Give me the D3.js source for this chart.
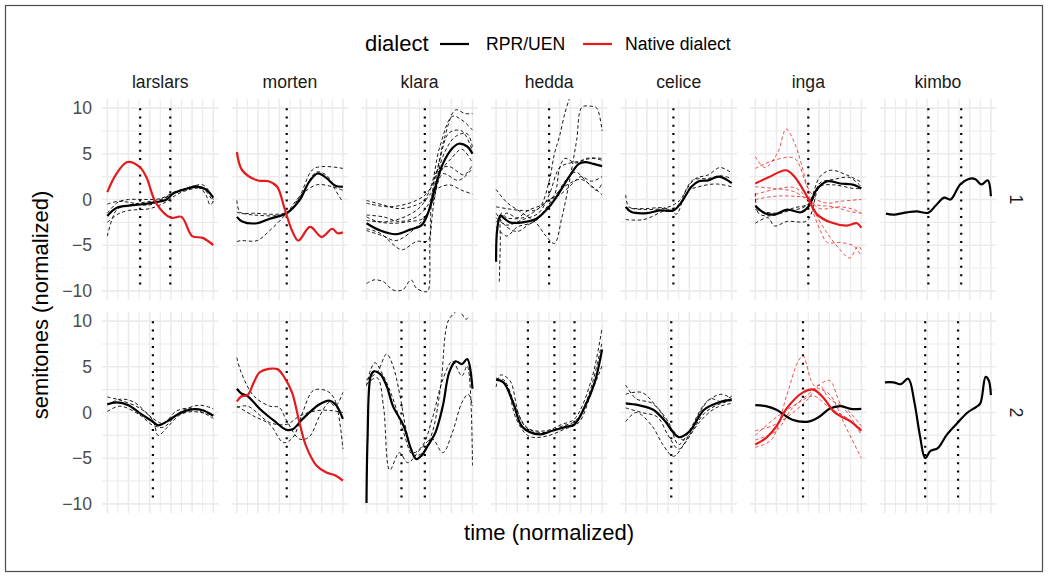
<!DOCTYPE html>
<html><head><meta charset="utf-8">
<script src="https://cdn.jsdelivr.net/npm/d3@7"></script>
<style>body{margin:0;background:#fff}text{font-family:"Liberation Sans",Arial,sans-serif}</style>
</head><body><svg id="c" width="1049" height="578"></svg>
<script>
// ---------- categories & ticks ----------
const speakers = ["larslars","morten","klara","hedda","celice","inga","kimbo"];
const rowIds = ["1","2"];
const yTickVals = [-10,-5,0,5,10];
const yTickLabels = ["\u221210","\u22125","0","5","10"];
const dialects = ["RPR/UEN","Native dialect"];
const dialectColors = ["#000000","#e41a1c"];

// ---------- row 1 ----------
const ll1Rpr = [[0,-1.8],[0.09,-0.9],[0.22,-0.65],[0.31,-0.55],[0.43,-0.35],[0.56,0],[0.62,0.65],[0.74,1.15],[0.85,1.4],[0.93,1.1],[1,0.2]];
const ll1Nat = [[0,0.8],[0.08,2.7],[0.19,4.1],[0.31,3.5],[0.37,2.4],[0.46,-0.4],[0.6,-2.0],[0.7,-1.9],[0.8,-4.0],[0.9,-4.2],[1,-5.0]];
const ll1RprTrials = [
 [[0,-4],[0.05,-2],[0.1,-1.0],[0.3,-0.4],[0.5,0],[0.7,1.0],[0.85,1.5],[0.93,0.5],[0.97,-0.6],[1,-0.2]],
 [[0,-1.5],[0.1,-0.3],[0.2,0],[0.35,0],[0.5,0.1],[0.65,0.9],[0.75,1.2],[0.9,1.6],[1,0.2]],
 [[0,-2.5],[0.1,-1.6],[0.2,-1.2],[0.4,-1.0],[0.55,-0.3],[0.65,0.5],[0.75,1.0],[0.9,1.2],[1,-0.3]],
 [[0,-0.5],[0.1,-0.2],[0.2,-0.3],[0.4,-0.6],[0.6,0.5],[0.8,1.3],[0.95,0.9],[1,0]]
];
const ll1Bounds = [0.31,0.594];

const mo1Rpr = [[0,-1.9],[0.05,-2.4],[0.19,-2.6],[0.31,-2.1],[0.47,-1.5],[0.59,-0.1],[0.68,1.9],[0.76,2.85],[0.84,2.4],[0.93,1.5],[1,1.4]];
const mo1Nat = [[0,5.2],[0.05,3.2],[0.19,2.1],[0.3,2.0],[0.38,1.4],[0.45,-1.0],[0.52,-3.4],[0.58,-4.5],[0.69,-3.0],[0.8,-4.1],[0.9,-3.2],[0.95,-3.7],[1,-3.6]];
const mo1RprTrials = [
 [[0,-0.1],[0.03,-1.4],[0.16,-1.5],[0.47,-1.4],[0.59,0.3],[0.73,3.4],[1,3.4]],
 [[0,-4.6],[0.04,-4.5],[0.19,-4.5],[0.31,-3.4],[0.47,-1.5],[0.59,0.3],[0.75,1.6],[0.9,1.4],[1,1.0]],
 [[0,-1.4],[0.16,-1.7],[0.47,-1.5],[0.62,0.7],[0.75,3.0],[0.85,2.6],[0.92,1.2],[1,-0.3]]
];
const mo1Bounds = [0.47];

const kl1Rpr = [[0,-2.6],[0.13,-3.4],[0.28,-3.8],[0.41,-3.3],[0.52,-2.8],[0.58,-1.5],[0.64,1.0],[0.72,3.9],[0.81,5.6],[0.87,6.1],[0.95,5.8],[1,5.0]];
const kl1RprTrials = [
 [[0,-9.2],[0.07,-8.8],[0.16,-9.0],[0.25,-9.9],[0.34,-9.9],[0.42,-8.8],[0.47,-9.7],[0.55,-10.1],[0.58,-10],[0.6,-4.5],[0.64,0],[0.7,3],[0.8,4.5],[0.9,5.5],[1,4]],
 [[0,-0.1],[0.16,-0.6],[0.31,-1.0],[0.47,-0.6],[0.54,-0.1],[0.65,2.5],[0.73,6.5],[0.84,9.8],[0.93,9.4],[1,9.4]],
 [[0,-0.4],[0.22,-0.8],[0.47,-0.1],[0.59,1.0],[0.69,5.7],[0.81,9.1],[0.9,8.7],[1,7.6]],
 [[0,-1.7],[0.16,-1.9],[0.31,-2.4],[0.47,-1.9],[0.59,-0.4],[0.69,4.3],[0.78,7.3],[0.9,7.5],[1,5.3]],
 [[0,-2.3],[0.22,-2.4],[0.47,-1.2],[0.64,1.0],[0.78,1.6],[0.9,1.0],[1,0.6]],
 [[0,-3.2],[0.13,-3.7],[0.28,-5.2],[0.34,-5.5],[0.47,-4.6],[0.58,-4.5],[0.61,-0.8],[0.67,3.2],[0.78,3.6],[0.92,2.7],[1,3.8]],
 [[0,-3.4],[0.16,-4.0],[0.28,-4.5],[0.47,-3.0],[0.59,-1.2],[0.72,4.7],[0.84,6.9],[0.95,7.2],[1,5.7]],
 [[0,-1.9],[0.1,-2.4],[0.25,-2.6],[0.41,-2.4],[0.53,-2.1],[0.62,-0.4],[0.72,2.8],[0.87,2.1],[1,3.4]]
];
const kl1Bounds = [0.55];

const he1Rpr = [[0,-6.8],[0.01,-3.3],[0.04,-1.75],[0.07,-2.0],[0.13,-2.5],[0.25,-2.5],[0.38,-2.1],[0.5,-0.8],[0.59,0.65],[0.69,2.5],[0.78,3.9],[0.84,4.1],[0.92,3.9],[1,3.65]];
const he1RprTrials = [
 [[0,1.1],[0.1,-0.3],[0.25,-1.5],[0.38,-2.6],[0.47,-4.0],[0.55,-4.8],[0.62,-2.0],[0.7,2.5],[0.76,6.5],[0.81,10.1],[0.9,10.2],[0.95,10],[1,7.5]],
 [[0,-0.8],[0.1,-1.0],[0.25,-1.2],[0.4,-1.0],[0.5,2.0],[0.55,5.0],[0.6,7.0],[0.65,9.5],[0.69,11]],
 [[0,-2.0],[0.1,-2.8],[0.25,-2.2],[0.4,-1.5],[0.5,0.5],[0.6,3.5],[0.7,4.0],[0.8,4.2],[0.9,4.5],[1,4.3]],
 [[0,-1.5],[0.1,-3.0],[0.2,-3.5],[0.3,-2.8],[0.4,-2.0],[0.5,-0.5],[0.6,1.0],[0.7,1.8],[0.8,2.2],[0.9,1.5],[1,0.5]],
 [[0.03,-9.0],[0.04,-5],[0.05,-1.5],[0.1,-2.0],[0.25,-2.0],[0.4,-1.0],[0.5,0],[0.6,0.5],[0.7,1.5],[0.8,2.5],[0.9,2.0],[1,2.5]],
 [[0,-3.0],[0.1,-4.0],[0.2,-3.0],[0.35,-2.5],[0.45,-1.5],[0.55,0],[0.65,2.0],[0.75,3.0],[0.85,2.0],[0.95,1.0],[1,1.8]],
 [[0,-2.5],[0.1,-1.5],[0.2,-2.0],[0.3,-1.2],[0.45,-0.5],[0.55,0.5],[0.6,3.5],[0.65,4.5],[0.75,4.0],[0.85,4.5],[1,4.5]]
];
const he1Bounds = [0.5];

const ce1Rpr = [[0,-0.8],[0.05,-1.35],[0.2,-1.5],[0.32,-1.2],[0.45,-1.2],[0.52,-0.4],[0.62,1.4],[0.69,2.0],[0.78,2.1],[0.88,2.5],[1,1.8]];
const ce1RprTrials = [
 [[0,0.5],[0.03,-0.8],[0.17,-1.0],[0.35,-0.9],[0.43,-1.2],[0.48,-1.6],[0.57,1.0],[0.66,2.3],[0.78,2.7],[0.89,3.5],[1,2.9]],
 [[0,-2.2],[0.17,-2.2],[0.35,-1.3],[0.48,-0.8],[0.6,1.0],[0.69,1.4],[0.85,1.7],[1,1.4]],
 [[0,-0.9],[0.17,-1.1],[0.38,-0.9],[0.51,-0.1],[0.63,2.1],[0.78,2.3],[0.89,2.6],[1,2.3]]
];
const ce1Bounds = [0.45];

const in1Rpr = [[0,-0.7],[0.09,-1.5],[0.18,-1.65],[0.3,-1.1],[0.43,-1.4],[0.5,-0.8],[0.58,1.1],[0.68,2.0],[0.8,1.75],[0.93,1.6],[1,1.2]];
const in1Nat = [[0,1.75],[0.12,2.4],[0.29,3.2],[0.37,2.5],[0.49,0.3],[0.58,-1.6],[0.71,-2.5],[0.86,-2.85],[0.96,-2.6],[1,-3.1]];
const in1RprTrials = [
 [[0,0.7],[0.03,-1.5],[0.12,-1.8],[0.3,-1.3],[0.49,-0.6],[0.61,2.5],[0.71,3.2],[0.86,2.7],[1,1.9]],
 [[0,-2.6],[0.12,-2.0],[0.18,-2.9],[0.3,-2.4],[0.49,-2.3],[0.61,1.4],[0.74,1.6],[0.93,1.2],[1,1.2]],
 [[0,-1.1],[0.18,-1.5],[0.37,-0.9],[0.52,-0.4],[0.61,1.8],[0.74,2.2],[0.89,2.4],[1,1.4]]
];
const in1NatTrials = [
 [[0,4.7],[0.09,3.5],[0.21,5.1],[0.29,7.7],[0.37,6.2],[0.49,1.4],[0.55,-1.5],[0.61,-3.3],[0.68,-4.7],[0.8,-4.7],[0.93,-5.1],[1,-6.2]],
 [[0,3.4],[0.18,4.3],[0.37,4.5],[0.49,1.4],[0.58,0],[0.68,-0.4],[0.8,-0.2],[1,0]],
 [[0,1.4],[0.18,1.2],[0.37,0.85],[0.52,-0.3],[0.58,-0.6],[0.74,-0.8],[0.89,-1.3],[1,-1.5]],
 [[0,0],[0.18,0.35],[0.37,0.35],[0.52,0],[0.58,-1.8],[0.68,-3.7],[0.8,-5.5],[0.89,-6.4],[0.97,-5.1],[1,-5.5]],
 [[0,0.55],[0.18,1.1],[0.37,1.3],[0.49,0.2],[0.61,-1],[0.8,-0.8],[0.93,-1.1],[1,-1.5]]
];
const in1Bounds = [0.5];

const ki1Rpr = [[0.01,-1.55],[0.08,-1.65],[0.21,-1.4],[0.3,-1.3],[0.41,-1.45],[0.48,-0.65],[0.56,0.2],[0.62,0],[0.71,1.65],[0.79,2.25],[0.85,2.25],[0.91,1.65],[0.97,2.1],[1,0.35]];
const ki1Bounds = [0.41,0.72];

// ---------- row 2 ----------
const ll2Rpr = [[0,0.9],[0.09,1.1],[0.2,0.8],[0.31,-0.1],[0.43,-1.0],[0.48,-1.4],[0.56,-1.0],[0.68,-0.1],[0.8,0.35],[0.9,0.25],[1,-0.35]];
const ll2RprTrials = [
 [[0,1.7],[0.12,1.35],[0.31,0.45],[0.43,-0.85],[0.48,-2.5],[0.56,-1.7],[0.68,-0.3],[0.8,0.1],[1,-0.3]],
 [[0,0.1],[0.12,0.7],[0.31,-0.3],[0.43,-1.4],[0.53,-1.6],[0.68,0.0],[0.87,0.8],[1,0.4]],
 [[0,0.8],[0.12,1.45],[0.25,1.15],[0.43,-0.65],[0.53,-1.2],[0.65,0.15],[0.8,0.45],[1,-0.65]]
];
const ll2Bounds = [0.43];

const mo2Rpr = [[0,2.6],[0.04,2.1],[0.1,1.8],[0.22,0.36],[0.35,-0.9],[0.47,-1.9],[0.53,-1.8],[0.62,-0.7],[0.78,0.9],[0.87,1.3],[0.93,0.9],[1,-0.7]];
const mo2Nat = [[0,1.2],[0.04,1.75],[0.1,1.9],[0.16,3.3],[0.22,4.45],[0.38,4.75],[0.45,3.8],[0.52,2.2],[0.59,-1.1],[0.65,-3.6],[0.75,-5.8],[0.84,-6.55],[0.93,-6.9],[1,-7.45]];
const mo2RprTrials = [
 [[0,6.0],[0.04,4.4],[0.16,1.8],[0.31,0.7],[0.4,0.55],[0.47,-0.9],[0.59,-2.9],[0.68,-2.7],[0.78,-0.4],[0.87,1.1],[0.93,0.7],[1,2.2]],
 [[0,0.7],[0.16,-0.4],[0.31,-1.3],[0.44,-3.3],[0.53,-2.7],[0.62,0],[0.72,2.4],[0.84,2.4],[0.92,1.5],[1,-4.0]],
 [[0,0.55],[0.1,0.7],[0.31,-1.1],[0.47,-1.3],[0.59,-0.4],[0.75,0.2],[0.9,0.2],[1,0]]
];
const mo2Bounds = [0.47];

const kl2Rpr = [[0,-9.9],[0.01,-2.9],[0.04,4.0],[0.07,4.5],[0.13,4.2],[0.19,2.9],[0.25,0.7],[0.35,-1.45],[0.42,-4.0],[0.47,-5.1],[0.52,-4.7],[0.58,-3.6],[0.65,-2.2],[0.72,0.7],[0.78,4.4],[0.84,5.6],[0.9,5.3],[0.95,5.85],[1,2.6]];
const kl2RprTrials = [
 [[0,2.9],[0.04,4.7],[0.08,5.45],[0.16,4.0],[0.25,1.5],[0.35,-2.2],[0.44,-4.7],[0.53,-4.4],[0.62,-2.2],[0.7,2.9],[0.77,10],[0.84,11]],
 [[0,3.6],[0.1,4.4],[0.19,6.4],[0.25,5.1],[0.31,2.2],[0.38,-2.2],[0.44,-4.4],[0.53,-3.6],[0.62,-0.7],[0.72,3.6],[0.81,5.6],[0.9,4.0],[0.95,5.1],[1,-5.8]],
 [[0,3.1],[0.1,3.8],[0.16,0.7],[0.22,-6.3],[0.31,-4.4],[0.39,-5.5],[0.51,-4.0],[0.62,-2.9],[0.72,-4.4],[0.81,-2.2],[0.9,1.1],[0.96,2.0],[1,0.7]],
 [[0.9,10.8],[0.94,10.2],[0.97,10.6]]
];
const kl2Bounds = [0.33,0.55];

const he2Rpr = [[0,3.6],[0.07,3.3],[0.16,1.1],[0.25,-1.6],[0.41,-2.4],[0.53,-2.0],[0.65,-1.6],[0.74,-1.3],[0.84,0.7],[0.93,3.3],[1,6.9]];
const he2RprTrials = [
 [[0,2.8],[0.04,4.1],[0.13,3.5],[0.22,-0.4],[0.31,-1.8],[0.47,-2.0],[0.62,-1.3],[0.74,-0.7],[0.9,3.6],[1,9.3]],
 [[0,3.8],[0.1,2.8],[0.19,-0.7],[0.31,-2.6],[0.47,-2.6],[0.65,-1.8],[0.78,-1.1],[0.9,2.2],[1,5.1]],
 [[0,3.6],[0.07,3.6],[0.19,0.4],[0.28,-1.6],[0.44,-2.2],[0.62,-1.5],[0.75,-0.9],[0.87,1.8],[1,7.7]]
];
const he2Bounds = [0.3,0.55,0.74];

const ce2Rpr = [[0,1.0],[0.12,0.8],[0.26,0.3],[0.36,-0.8],[0.5,-2.7],[0.6,-2.1],[0.74,0.3],[0.88,1.1],[1,1.4]];
const ce2RprTrials = [
 [[0,3.0],[0.1,1.5],[0.25,1.0],[0.4,-1.0],[0.5,-3.5],[0.6,-2.0],[0.75,1.0],[0.9,2.0],[1,1.5]],
 [[0,-1.0],[0.1,0],[0.25,-1.5],[0.35,-3.5],[0.45,-4.8],[0.55,-3.5],[0.7,-1.0],[0.85,0.5],[1,1.0]],
 [[0,2.0],[0.15,2.2],[0.3,0.5],[0.45,-2.0],[0.55,-3.0],[0.7,0],[0.8,1.5],[0.9,1.2],[1,1.8]],
 [[0,0.5],[0.15,0],[0.3,-0.5],[0.4,-2.5],[0.5,-4.0],[0.6,-2.5],[0.75,0],[0.9,1.0],[1,1.3]]
];
const ce2Bounds = [0.43];

const in2Rpr = [[0,0.8],[0.1,0.7],[0.2,0.3],[0.35,-0.8],[0.5,-1.0],[0.6,-0.5],[0.7,0.4],[0.8,0.7],[0.9,0.4],[1,0.4]];
const in2Nat = [[0,-3.5],[0.1,-2.8],[0.2,-1.5],[0.3,0.5],[0.45,2.2],[0.55,2.5],[0.65,1.5],[0.75,0],[0.9,-1.0],[1,-2.0]];
const in2NatTrials = [
 [[0,-3.8],[0.15,-3.0],[0.3,2.0],[0.4,5.5],[0.45,6.2],[0.55,3.0],[0.7,2.0],[0.85,-1.5],[1,-5.0]],
 [[0,-3.0],[0.2,-2.0],[0.35,0.5],[0.5,2.0],[0.6,3.0],[0.7,3.5],[0.8,1.0],[0.9,-0.5],[1,-2.5]],
 [[0,-2.0],[0.15,-1.5],[0.3,-0.5],[0.5,1.5],[0.6,3.0],[0.7,1.5],[0.85,0.5],[1,-1.5]],
 [[0,-2.5],[0.2,-0.5],[0.4,1.0],[0.55,1.8],[0.7,0.5],[0.85,-0.5],[1,-1.8]]
];
const in2Bounds = [0.45];

const ki2Rpr = [[0,3.3],[0.08,3.3],[0.15,3.1],[0.22,3.7],[0.28,1.0],[0.33,-2.5],[0.38,-5.0],[0.43,-4.2],[0.5,-3.9],[0.58,-2.5],[0.68,-1.2],[0.78,0],[0.86,0.6],[0.9,1.0],[0.95,3.9],[0.98,3.5],[1,1.9]];
const ki2Bounds = [0.38,0.69];

// ---------- panel table built from the named arrays ----------
const panelData = {
 "larslars|1":{rpr:ll1Rpr,nat:ll1Nat,rprT:ll1RprTrials,natT:[],b:ll1Bounds},
 "morten|1":{rpr:mo1Rpr,nat:mo1Nat,rprT:mo1RprTrials,natT:[],b:mo1Bounds},
 "klara|1":{rpr:kl1Rpr,nat:null,rprT:kl1RprTrials,natT:[],b:kl1Bounds},
 "hedda|1":{rpr:he1Rpr,nat:null,rprT:he1RprTrials,natT:[],b:he1Bounds},
 "celice|1":{rpr:ce1Rpr,nat:null,rprT:ce1RprTrials,natT:[],b:ce1Bounds},
 "inga|1":{rpr:in1Rpr,nat:in1Nat,rprT:in1RprTrials,natT:in1NatTrials,b:in1Bounds},
 "kimbo|1":{rpr:ki1Rpr,nat:null,rprT:[],natT:[],b:ki1Bounds},
 "larslars|2":{rpr:ll2Rpr,nat:null,rprT:ll2RprTrials,natT:[],b:ll2Bounds},
 "morten|2":{rpr:mo2Rpr,nat:mo2Nat,rprT:mo2RprTrials,natT:[],b:mo2Bounds},
 "klara|2":{rpr:kl2Rpr,nat:null,rprT:kl2RprTrials,natT:[],b:kl2Bounds},
 "hedda|2":{rpr:he2Rpr,nat:null,rprT:he2RprTrials,natT:[],b:he2Bounds},
 "celice|2":{rpr:ce2Rpr,nat:null,rprT:ce2RprTrials,natT:[],b:ce2Bounds},
 "inga|2":{rpr:in2Rpr,nat:in2Nat,rprT:[],natT:in2NatTrials,b:in2Bounds},
 "kimbo|2":{rpr:ki2Rpr,nat:null,rprT:[],natT:[],b:ki2Bounds}
};

// ---------- layout ----------
const svg = d3.select("#c");
svg.append("rect").attr("x",0).attr("y",0).attr("width",1049).attr("height",578).attr("fill","#fff");
svg.append("rect").attr("x",5.5).attr("y",5.5).attr("width",1037).attr("height",566)
  .attr("fill","none").attr("stroke","#4d4d4d").attr("stroke-width",1.2);

const panelLeft0 = 102, panelW = 116.6, panelGap = 13;
const rowTop = [99, 312], panelH = 201;
const x = d3.scaleLinear().domain([-0.05,1.05]).range([0,panelW]);
const y = d3.scaleLinear().domain([-11,11]).range([panelH,0]);
const xMinor = [0.1,0.3,0.5,0.7,0.9], xMajor = [0,0.2,0.4,0.6,0.8,1];
const yMinor = [-7.5,-2.5,2.5,7.5];
const line = d3.line().x(d=>x(d[0])).y(d=>y(d[1])).curve(d3.curveCatmullRom.alpha(0.5));

rowIds.forEach((rid,ri)=>{
  speakers.forEach((sp,ci)=>{
    const L = panelLeft0 + ci*(panelW+panelGap), T = rowTop[ri];
    const g = svg.append("g").attr("transform",`translate(${L},${T})`);
    const grid = g.append("g").attr("stroke","#ebebeb");
    xMinor.forEach(v=>grid.append("line").attr("x1",x(v)).attr("x2",x(v)).attr("y1",0).attr("y2",panelH).attr("stroke-width",1.1));
    yMinor.forEach(v=>grid.append("line").attr("y1",y(v)).attr("y2",y(v)).attr("x1",0).attr("x2",panelW).attr("stroke-width",1.1));
    xMajor.forEach(v=>grid.append("line").attr("x1",x(v)).attr("x2",x(v)).attr("y1",0).attr("y2",panelH).attr("stroke-width",1.6));
    yTickVals.forEach(v=>grid.append("line").attr("y1",y(v)).attr("y2",y(v)).attr("x1",0).attr("x2",panelW).attr("stroke-width",1.6));

    const cid = `clip${ri}_${ci}`;
    g.append("clipPath").attr("id",cid).append("rect").attr("width",panelW).attr("height",panelH);
    const pg = g.append("g").attr("clip-path",`url(#${cid})`);
    const pd = panelData[`${sp}|${rid}`];

    pd.rprT.forEach(t=>pg.append("path").attr("d",line(t)).attr("fill","none")
      .attr("stroke",dialectColors[0]).attr("stroke-width",0.9).attr("stroke-dasharray","3.5,2.5"));
    pd.natT.forEach(t=>pg.append("path").attr("d",line(t)).attr("fill","none")
      .attr("stroke",dialectColors[1]).attr("stroke-opacity",0.85).attr("stroke-width",0.9).attr("stroke-dasharray","3.5,2.5"));
    pd.b.forEach(v=>pg.append("line").attr("x1",x(v)).attr("x2",x(v)).attr("y1",y(10)).attr("y2",y(-10))
      .attr("stroke","#000").attr("stroke-width",2.2).attr("stroke-dasharray","2,6.3"));
    if(pd.rpr) pg.append("path").attr("d",line(pd.rpr)).attr("fill","none").attr("stroke",dialectColors[0]).attr("stroke-width",2.2).attr("stroke-linejoin","round");
    if(pd.nat) pg.append("path").attr("d",line(pd.nat)).attr("fill","none").attr("stroke",dialectColors[1]).attr("stroke-width",2.2).attr("stroke-linejoin","round");

    if(ri===0){
      svg.append("text").attr("x",L+panelW/2).attr("y",88).attr("text-anchor","middle")
        .attr("font-size",17.6).attr("fill","#1a1a1a").text(sp);
    }
    if(ci===0){
      yTickVals.forEach((v,k)=>svg.append("text").attr("x",92).attr("y",T+y(v)+6).attr("text-anchor","end")
        .attr("font-size",17.6).attr("fill","#4d4d4d").text(yTickLabels[k]));
    }
  });
  const cy = rowTop[ri]+panelH/2;
  svg.append("text").attr("transform",`translate(1010,${cy}) rotate(90)`).attr("text-anchor","middle")
    .attr("font-size",17.6).attr("fill","#1a1a1a").text(rid);
});

// axis titles
svg.append("text").attr("x",549).attr("y",540).attr("text-anchor","middle").attr("font-size",22).attr("fill","#000").text("time (normalized)");
svg.append("text").attr("transform","translate(48,305) rotate(-90)").attr("text-anchor","middle").attr("font-size",22).attr("fill","#000").text("semitones (normalized)");

// legend
svg.append("text").attr("x",365).attr("y",51).attr("font-size",22).attr("fill","#000").text("dialect");
const legX = [440, 583];
const legTX = [486, 625];
dialects.forEach((d,i)=>{
  svg.append("line").attr("x1",legX[i]).attr("x2",legX[i]+29).attr("y1",44).attr("y2",44).attr("stroke",dialectColors[i]).attr("stroke-width",2.2);
  svg.append("text").attr("x",legTX[i]).attr("y",50).attr("font-size",17.6).attr("fill","#000").text(d);
});
</script></body></html>
